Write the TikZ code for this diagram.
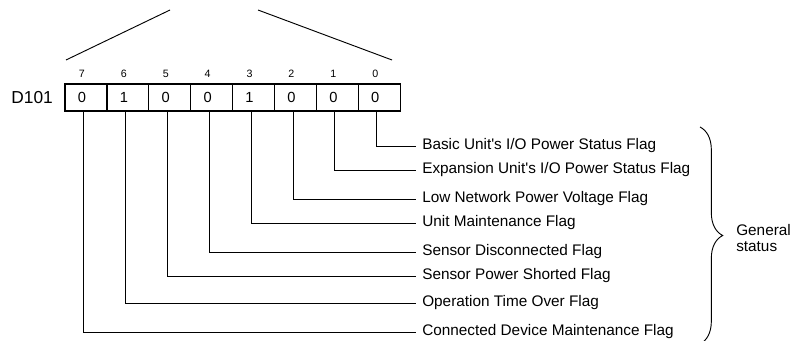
\documentclass[tikz,border=0pt]{standalone}
\usepackage{fontspec}
\setmainfont{Liberation Sans}
\usetikzlibrary{decorations.pathreplacing}

\begin{document}
\begin{tikzpicture}[x=0.75pt, y=-0.75pt,
        bitbox/.style={draw, line width=0.9pt, minimum width=31.4pt, minimum height=20.2pt, inner sep=0pt},
        bitnum/.style={font=\fontsize{8}{9}\selectfont, inner sep=0pt},
        flag/.style={anchor=west, inner xsep=4.5pt, inner ysep=0pt, font=\fontsize{11.5}{13}\selectfont},
        wire/.style={line width=0.7pt}]
        \useasboundingbox (0,0) rectangle (795,341);
        \draw[wire] (66,60) -- (170,10);
        \draw[wire] (258,10) -- (392,60);
        \foreach \b/\v in {7/0, 6/1, 5/0, 4/0, 3/1, 2/0, 1/0, 0/0} {
            \node[bitbox] (b\b) at ({65+(7-\b)*41.9+20.95},97.5) {};
            \node[font=\fontsize{11}{12}\selectfont] at ([xshift=-3pt]b\b.center) {\v};
            \node[bitnum] (n\b) at ([xshift=-3pt,yshift=7pt]b\b.north) {\b};
        }
        \node[anchor=east, inner sep=0pt, font=\fontsize{13}{14}\selectfont] (reg) at ([xshift=-8.5pt]b7.west) {D101};
        \foreach \b/\y/\t in {0/146/{Basic Unit\textquotesingle s I/O Power Status Flag},
                              1/170/{Expansion Unit\textquotesingle s I/O Power Status Flag},
                              2/199/{Low Network Power Voltage Flag},
                              3/223/{Unit Maintenance Flag},
                              4/252/{Sensor Disconnected Flag},
                              5/276/{Sensor Power Shorted Flag},
                              6/303/{Operation Time Over Flag},
                              7/332/{Connected Device Maintenance Flag}} {
            \node[flag] (f\b) at (416,\y) {\t};
            \draw[wire] ([xshift=-1.8pt]b\b.south) |- (f\b.west);
        }
        \draw[wire, decorate, decoration={brace, amplitude=17pt}] (700,127) -- (700,344);
        \node[anchor=west, align=left, inner sep=0pt, font=\fontsize{11.5}{11.5}\selectfont] (gen) at (736,238) {General\\status};
    \end{tikzpicture}
\end{document}
